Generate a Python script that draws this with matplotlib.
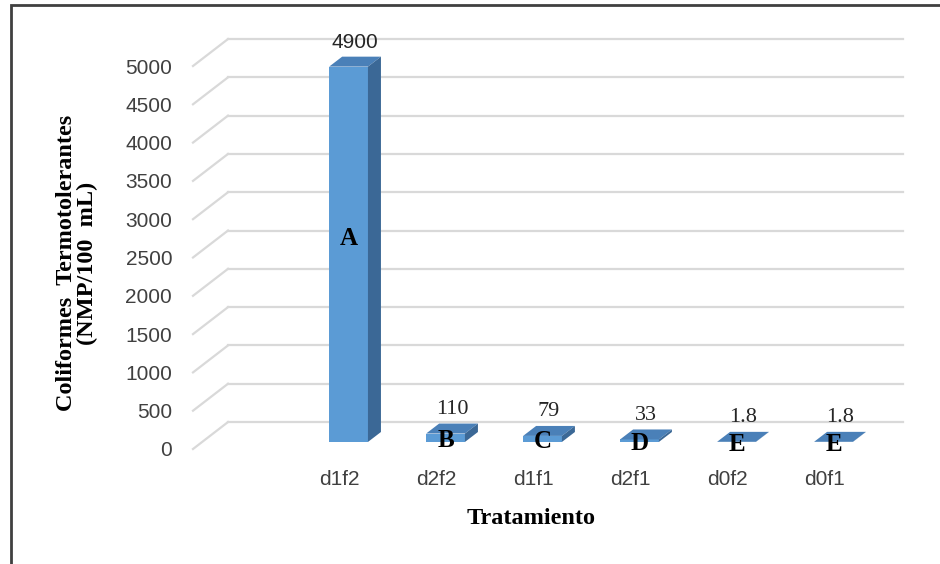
import numpy as np
import matplotlib
matplotlib.use('Agg')
import matplotlib.pyplot as plt
from matplotlib.patches import Rectangle, Polygon

# ---------- Data -------------------------------------------------------------------------------------------------------

tratamientos = ['d1f2', 'd2f2', 'd1f1', 'd2f1', 'd0f2', 'd0f1']      # Treatments (x categories).
coliformes = [4900, 110, 79, 33, 1.8, 1.8]                            # Thermotolerant coliforms (NMP/100 mL).
grupos = ['A', 'B', 'C', 'D', 'E', 'E']                               # Significance groups.
valor_txt = ['4900', '110', '79', '33', '1.8', '1.8']                 # Value labels above the bars.
y_ticks = np.arange(0, 5001, 500)

# ---------- Pseudo 3D geometry (data units) ---------------------------------------------------------------------------

DX, DY = 0.361, 352          # Offset from the front plane to the back wall.
FX, FY = 0.094, 92           # Offset of the bar front face from the front plane.
BX, BY = 0.134, 130          # Depth of each bar.
W = 0.40                     # Bar width.
XL, XR = -1.51, 5.45         # Horizontal limits of the front plane.

c_front = '#5b9bd5'
c_top = '#4a80b8'
c_side = '#3b6896'
c_grid = '#d9d9d9'

fig = plt.figure(figsize=(9.4, 5.64), dpi=100)
fig.patch.set_facecolor('white')
ax = fig.add_axes([193 / 940, 115 / 564, 675 / 940, 383 / 564])
ax.set_xlim(XL, XR)
ax.set_ylim(0, 5000)
ax.patch.set_visible(False)
for s in ax.spines.values():
    s.set_visible(False)

# Back wall gridlines and the slanted side lines.
for v in y_ticks:
    ax.plot([XL + DX, XR + DX], [v + DY, v + DY], color=c_grid, lw=1.6, clip_on=False, zorder=1)
    ax.plot([XL, XL + DX], [v, v + DY], color=c_grid, lw=1.6, clip_on=False, zorder=1)

# Bars: front face, top face and right side.
for i, v in enumerate(coliformes):
    x0 = i + FX - W / 2
    y0 = FY
    ax.add_patch(Rectangle((x0, y0), W, v, facecolor=c_front, edgecolor='none', zorder=3, clip_on=False))
    ax.add_patch(Polygon([(x0, y0 + v), (x0 + W, y0 + v), (x0 + W + BX, y0 + v + BY), (x0 + BX, y0 + v + BY)],
                         closed=True, facecolor=c_top, edgecolor='none', zorder=3, clip_on=False))
    ax.add_patch(Polygon([(x0 + W, y0), (x0 + W + BX, y0 + BY), (x0 + W + BX, y0 + v + BY), (x0 + W, y0 + v)],
                         closed=True, facecolor=c_side, edgecolor='none', zorder=3, clip_on=False))

    if v >= 1000:
        ax.text(x0 + (W + BX) / 2, y0 + v + BY + 60, valor_txt[i], ha='center', va='bottom',
                fontsize=15, family=['Liberation Sans'], color='#262626', zorder=5, clip_on=False)
    else:
        ax.text(x0 + (W + BX) / 2, y0 + v + BY + 60, valor_txt[i], ha='center', va='bottom',
                fontsize=16, family=['Liberation Serif'], color='#262626', zorder=5, clip_on=False)
    ax.text(i + FX, y0 + 0.55 * v - 40, grupos[i], ha='center', va='center', fontsize=18,
            family=['Liberation Serif'], fontweight='bold', color='black', zorder=5, clip_on=False)

# Axes ticks and labels.
ax.set_yticks(y_ticks)
ax.set_yticklabels([str(t) for t in y_ticks], family=['Liberation Sans'], fontsize=15, color='#404040')
ax.set_xticks(range(len(tratamientos)))
ax.set_xticklabels(tratamientos, family=['Liberation Sans'], fontsize=15, color='#404040')
ax.tick_params(axis='y', length=0, pad=15)
ax.tick_params(axis='x', length=0, pad=15)

fig.text(531 / 940, 1 - 518 / 564, 'Tratamiento', ha='center', va='center',
         fontsize=17.5, family=['Liberation Serif'], fontweight='bold')
fig.text(77 / 940, 1 - 263 / 564, 'Coliformes  Termotolerantes\n(NMP/100  mL)', ha='center', va='center',
         rotation=90, fontsize=17.5, family=['Liberation Serif'], fontweight='bold', linespacing=0.95)

# Chart border.
fig.add_artist(Rectangle((11 / 940, -0.05), 1.2, 1.05 - 5 / 564, transform=fig.transFigure,
                         facecolor='none', edgecolor='#404040', lw=2))

fig.savefig('out.png', dpi=100)
